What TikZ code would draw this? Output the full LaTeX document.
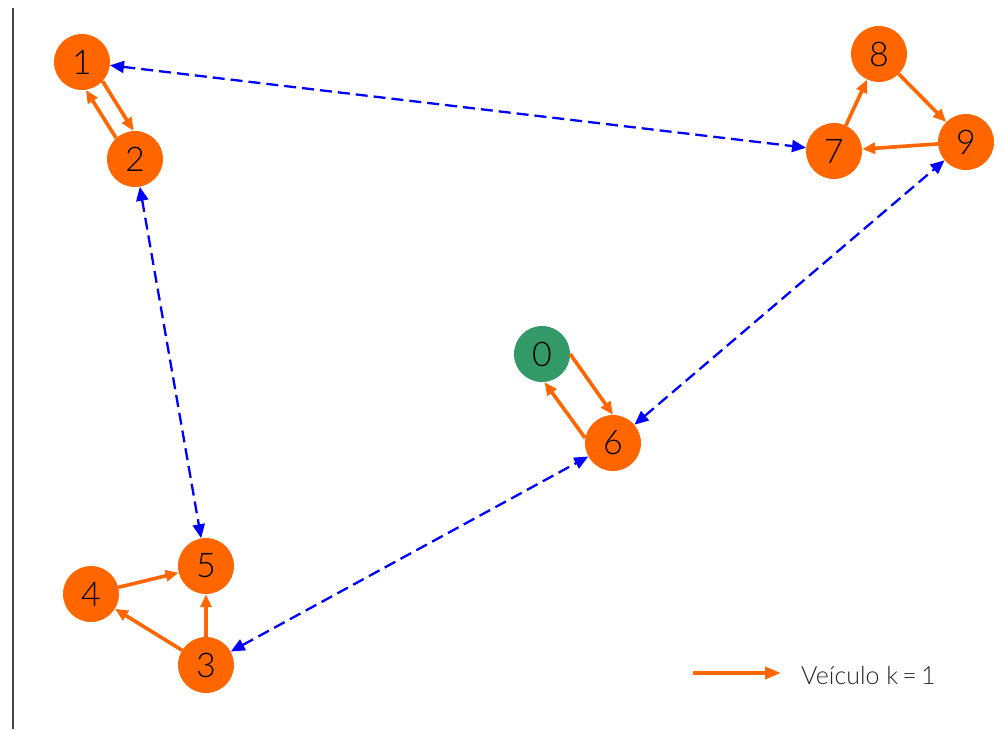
\documentclass[tikz,border=0pt]{standalone}
\usepackage{fontspec}
\setmainfont{Lato Light}
\usetikzlibrary{arrows.meta,calc}
\definecolor{route}{RGB}{255,102,0}
\definecolor{depot}{RGB}{51,153,102}
\definecolor{link}{RGB}{0,0,255}
\definecolor{axisgray}{RGB}{70,70,70}
\begin{document}
\begin{tikzpicture}[x=1pt,y=-1pt,
  stop/.style={circle,fill=route,minimum size=56pt,inner sep=0pt,
    font=\fontsize{34}{34}\selectfont},
  depotstop/.style={stop,fill=depot},
  routeedge/.style={draw=route,line width=3.6pt,
    -{Triangle[length=13pt,width=11pt]}},
  linkedge/.style={draw=link,line width=2.3pt,dash pattern=on 12pt off 6pt,
    {Triangle[length=14pt,width=12pt]}-{Triangle[length=14pt,width=12pt]}}
]
\useasboundingbox (0,0) rectangle (1004,729);

% left frame line
\coordinate (ftop) at (13,8);
\coordinate (fbot) at (13,729);
\draw[axisgray,line width=1.3pt] (ftop) -- (fbot);

% stops
\node[depotstop] (n0) at (542,354) {0};
\node[stop] (n1) at (82,62) {1};
\node[stop] (n2) at (135,159) {2};
\node[stop] (n3) at (206,665) {3};
\node[stop] (n4) at (91,594) {4};
\node[stop] (n5) at (206,566) {5};
\node[stop] (n6) at (613,443) {6};
\node[stop] (n7) at (834,151) {7};
\node[stop] (n8) at (879,54) {8};
\node[stop] (n9) at (966,142) {9};

% dashed links between clusters
\draw[linkedge] (n1) -- (n7);
\draw[linkedge] (n2) -- (n5);
\draw[linkedge] (n3) -- (n6);
\draw[linkedge] (n6) -- (n9);

% vehicle route, two-way pairs drawn side by side
\draw[routeedge] (n1.-43) -- (n2.93);
\draw[routeedge] (n2.132) -- (n1.-82);
\draw[routeedge] (n0.east) -- (n6.north);
\draw[routeedge] (n6.170) -- (n0.-85);

\draw[routeedge] (n3) -- (n4);
\draw[routeedge] (n4) -- (n5);
\draw[routeedge] (n3) -- (n5);
\draw[routeedge] (n7) -- (n8);
\draw[routeedge] (n8) -- (n9);
\draw[routeedge] (n9) -- (n7);

% legend
\coordinate (la) at (693,673);
\coordinate (lb) at (781,673);
\draw[draw=route,line width=3.6pt,-{Triangle[length=16pt,width=12pt]}] (la) -- (lb);
\node[anchor=base west,inner sep=0pt,font=\fontsize{25}{25}\selectfont,text=black!85] (lt) at (801,684) {Veículo k\,=\,1};
\end{tikzpicture}
\end{document}
